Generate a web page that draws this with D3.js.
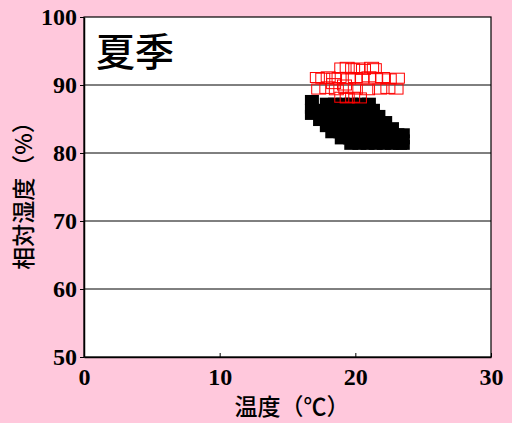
<!DOCTYPE html>
<html><head><meta charset="utf-8">
<script src="https://cdn.jsdelivr.net/npm/d3@7"></script>
<style>html,body{margin:0;padding:0;background:#ffc8dc;}</style>
</head><body>
<svg id="c" width="512" height="423"></svg>
<script>
const xTicks = [0, 10, 20, 30];
const yTicks = [50, 60, 70, 80, 90, 100];
const gridValues = [60, 70, 80, 90];
// red hollow squares (upper cluster)
const redTemp = [19.0, 19.4, 19.8, 20.2, 20.6, 21.2, 21.4,
  17.2, 17.6, 18.0, 18.4, 18.8, 19.5, 20.0, 20.5, 21.0, 21.5, 22.0, 22.5, 23.1,
  17.3, 17.9, 18.6, 19.3, 20.0, 20.9, 21.8, 22.4, 23.0,
  18.4, 19.2, 19.0, 19.4, 19.8, 20.3];
const redHum = [92.5, 92.6, 92.4, 92.5, 92.3, 92.6, 92.4,
  91.1, 91.0, 91.2, 91.0, 91.1, 90.9, 91.1, 91.0, 91.2, 91.0, 91.1, 90.9, 91.0,
  89.4, 89.5, 89.3, 89.5, 89.4, 89.3, 89.4, 89.5, 89.4,
  90.2, 90.0, 88.2, 88.1, 88.2, 88.1];
// black filled squares (lower cluster)
const blackTemp = [16.8, 17.9, 18.5, 19.1, 19.7, 20.3, 21.0,
  16.8, 17.4, 18.0, 18.6, 19.2, 19.8, 20.4, 21.0, 21.3,
  16.8, 17.4, 18.0, 18.6, 19.2, 19.8, 20.4, 21.0, 21.7,
  17.4, 18.0, 18.6, 19.2, 19.8, 20.4, 21.0, 21.6, 22.2,
  17.9, 18.5, 19.1, 19.7, 20.3, 20.9, 21.5, 22.1, 22.7,
  18.3, 18.9, 19.5, 20.1, 20.7, 21.3, 21.9, 22.5, 23.1, 23.5,
  19.0, 19.6, 20.2, 20.8, 21.4, 22.0, 22.6, 23.2, 23.5,
  19.7, 20.3, 20.9, 21.5, 22.1, 22.7, 23.3, 23.5];
const blackHum = [87.8, 87.4, 87.4, 87.4, 87.4, 87.4, 87.4,
  86.5, 86.5, 86.5, 86.5, 86.5, 86.5, 86.5, 86.5, 86.5,
  85.6, 85.6, 85.6, 85.6, 85.6, 85.6, 85.6, 85.6, 85.6,
  84.7, 84.7, 84.7, 84.7, 84.7, 84.7, 84.7, 84.7, 84.7,
  83.8, 83.8, 83.8, 83.8, 83.8, 83.8, 83.8, 83.8, 83.8,
  82.9, 82.9, 82.9, 82.9, 82.9, 82.9, 82.9, 82.9, 82.9, 82.9,
  82.0, 82.0, 82.0, 82.0, 82.0, 82.0, 82.0, 82.0, 82.0,
  81.2, 81.2, 81.2, 81.2, 81.2, 81.2, 81.2, 81.2];

const svg = d3.select("#c");
const L = 84, R = 491, T = 17, B = 357;
const x = d3.scaleLinear().domain([0, 30]).range([L, R]);
const y = d3.scaleLinear().domain([50, 100]).range([B, T]);

svg.append("rect").attr("x", L).attr("y", T).attr("width", R - L).attr("height", B - T).attr("fill", "#fff");

svg.selectAll("line.grid").data(gridValues).enter().append("line")
  .attr("x1", L).attr("x2", R).attr("y1", d => y(d)).attr("y2", d => y(d))
  .attr("stroke", "#000").attr("stroke-width", 1);

const mw = 14, mh = 10;
svg.selectAll("rect.blk").data(blackTemp).enter().append("rect")
  .attr("x", (d) => x(d) - mw / 2).attr("y", (d, i) => y(blackHum[i]) - mh / 2)
  .attr("width", mw).attr("height", mh).attr("fill", "#000");
svg.selectAll("rect.red").data(redTemp).enter().append("rect")
  .attr("x", (d) => x(d) - mw / 2).attr("y", (d, i) => y(redHum[i]) - mh / 2)
  .attr("width", mw).attr("height", mh).attr("fill", "none").attr("stroke", "#ff0000").attr("stroke-width", 1);

// frame
svg.append("rect").attr("x", L).attr("y", T).attr("width", R - L).attr("height", B - T)
  .attr("fill", "none").attr("stroke", "#000").attr("stroke-width", 1.2);

const xAxis = svg.append("g").attr("transform", `translate(0,${B})`)
  .call(d3.axisBottom(x).tickValues(xTicks).tickSizeInner(-4).tickSizeOuter(0).tickPadding(12));
const yAxis = svg.append("g").attr("transform", `translate(${L},0)`)
  .call(d3.axisLeft(y).tickValues(yTicks).tickSize(4).tickSizeOuter(0).tickPadding(3));
[xAxis, yAxis].forEach(g => {
  g.select(".domain").attr("stroke", "#000").attr("stroke-width", 1.5);
  g.selectAll(".tick line").attr("stroke", "#000");
  g.selectAll("text").attr("font-family", "Liberation Serif, serif").attr("font-weight", "bold")
    .attr("font-size", 24).attr("fill", "#000");
});
xAxis.selectAll("text").attr("dy", "0.68em");

svg.append("text").attr("x", 96).attr("y", 66).text("夏季")
  .attr("font-family", "Noto Sans CJK JP").attr("font-weight", 500).attr("font-size", 39).attr("fill", "#000");
svg.append("text").attr("x", 292).attr("y", 415).attr("text-anchor", "middle").text("温度（℃）")
  .attr("font-family", "Noto Sans CJK JP").attr("font-weight", 500).attr("font-size", 23).attr("fill", "#000");
svg.append("text").attr("transform", `translate(32,${(T + B) / 2 + 3}) rotate(-90)`).attr("text-anchor", "middle")
  .text("相対湿度（%）").attr("font-family", "Noto Sans CJK JP").attr("font-weight", 500).attr("font-size", 23).attr("fill", "#000");
</script>
</body></html>
